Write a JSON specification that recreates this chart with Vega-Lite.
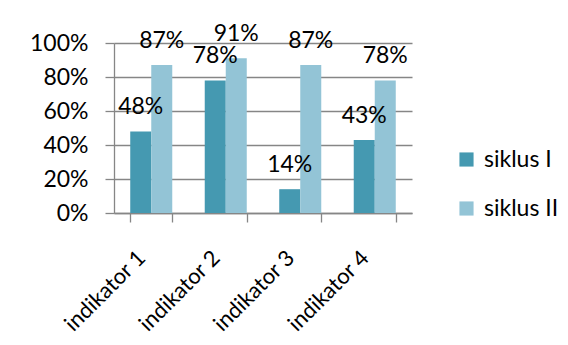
{
  "$schema": "https://vega.github.io/schema/vega-lite/v6.json",
  "width": 298,
  "height": 170,
  "autosize": {"type": "none"},
  "padding": {"left": 114, "top": 43, "right": 156, "bottom": 132},
  "background": "white",
  "config": {
    "font": "Lato",
    "view": {"stroke": null},
    "axis": {"labelFont": "Lato", "labelColor": "#000000", "labelFontSize": 23, "domainColor": "#868686", "tickColor": "#868686", "gridColor": "#868686", "domainWidth": 1.3, "tickWidth": 1.3, "gridWidth": 1.3}
  },
  "data": {
    "values": [
      {"indikator": "indikator 1", "siklus": "siklus I", "nilai": 0.48},
      {"indikator": "indikator 1", "siklus": "siklus II", "nilai": 0.87},
      {"indikator": "indikator 2", "siklus": "siklus I", "nilai": 0.78},
      {"indikator": "indikator 2", "siklus": "siklus II", "nilai": 0.91},
      {"indikator": "indikator 3", "siklus": "siklus I", "nilai": 0.14},
      {"indikator": "indikator 3", "siklus": "siklus II", "nilai": 0.87},
      {"indikator": "indikator 4", "siklus": "siklus I", "nilai": 0.43},
      {"indikator": "indikator 4", "siklus": "siklus II", "nilai": 0.78}
    ]
  },
  "encoding": {
    "x": {
      "field": "indikator",
      "type": "nominal",
      "title": null,
      "scale": {"paddingInner": 0.436, "paddingOuter": 0.218},
      "axis": {"grid": false, "tickBand": "extent", "tickSize": 9, "labelAngle": -45, "labelAlign": "right", "labelBaseline": "middle", "labelPadding": 32, "labelOffset": -10, "labelFontSize": 22}
    },
    "xOffset": {"field": "siklus", "type": "nominal", "sort": ["siklus I", "siklus II"]},
    "y": {
      "field": "nilai",
      "type": "quantitative",
      "title": null,
      "scale": {"domain": [0, 1], "nice": false},
      "axis": {"format": ".0%", "values": [0, 0.2, 0.4, 0.6, 0.8, 1], "grid": true, "tickSize": 9, "labelPadding": 17}
    }
  },
  "layer": [
    {
      "mark": {"type": "bar"},
      "encoding": {
        "color": {
          "field": "siklus",
          "type": "nominal",
          "scale": {"domain": ["siklus I", "siklus II"], "range": ["#4599b1", "#93c4d6"]},
          "legend": {"title": null, "orient": "none", "legendX": 341, "legendY": 105, "symbolType": "square", "symbolSize": 200, "symbolStrokeWidth": 0, "labelFontSize": 23, "labelFont": "Lato", "labelColor": "#000000", "rowPadding": 25, "labelOffset": 6}
        }
      }
    },
    {
      "mark": {"type": "text", "baseline": "alphabetic", "dy": -17, "fontSize": 23, "font": "Lato", "color": "#000000"},
      "encoding": {"text": {"field": "nilai", "type": "quantitative", "format": ".0%"}}
    }
  ]
}
